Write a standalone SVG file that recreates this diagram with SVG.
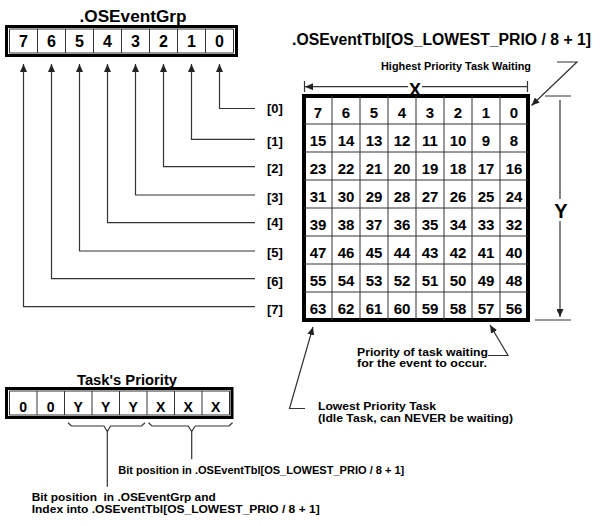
<svg xmlns="http://www.w3.org/2000/svg" width="600" height="526" viewBox="0 0 600 526">
<defs>
<marker id="ah" markerUnits="userSpaceOnUse" markerWidth="9" markerHeight="7" refX="8" refY="3.5" orient="auto">
<path d="M0,0 L8,3.5 L0,7 z" fill="#222"/>
</marker>
<style>
text{font-family:"Liberation Sans",Arial,sans-serif;font-weight:bold;fill:#000}
.c{text-anchor:middle}
.outer{fill:#fff;stroke:#000;stroke-width:3}
.cell{fill:none;stroke:#333;stroke-width:1}
.ln{fill:none;stroke:#333;stroke-width:1.2}
.ar{fill:none;stroke:#333;stroke-width:1.2;marker-end:url(#ah)}
.d16{font-size:16px}
.d15{font-size:15px}
.d14{font-size:14px}
.lb{font-size:13px}
.an{font-size:11px}
</style>
</defs>
<rect width="600" height="526" fill="#fff"/>

<g id="osEventGrp">
<text class="c" x="133" y="22" font-size="17" textLength="107" lengthAdjust="spacingAndGlyphs">.OSEventGrp</text>
<rect class="outer" x="6.5" y="26.5" width="230" height="29"/>
<path class="cell" d="M9.5,29 H233.5 V53 H9.5 Z M37.5,29 V53 M65.5,29 V53 M93.5,29 V53 M121.5,29 V53 M149.5,29 V53 M177.5,29 V53 M205.5,29 V53"/>
<g class="d16 c">
<text x="23.5" y="47">7</text><text x="51.5" y="47">6</text><text x="79.5" y="47">5</text><text x="107.5" y="47">4</text>
<text x="135.5" y="47">3</text><text x="163.5" y="47">2</text><text x="191.5" y="47">1</text><text x="219.5" y="47">0</text>
</g>
</g>

<g id="rowLabels" class="lb">
<text x="267" y="112.5">[0]</text>
<text x="267" y="145.5">[1]</text>
<text x="267" y="173.3">[2]</text>
<text x="267" y="202">[3]</text>
<text x="267" y="227.3">[4]</text>
<text x="267" y="257.3">[5]</text>
<text x="267" y="285.6">[6]</text>
<text x="267" y="314">[7]</text>
</g>

<g id="osEventTbl">
<text x="292" y="45" font-size="16" textLength="299" lengthAdjust="spacingAndGlyphs">.OSEventTbl[OS_LOWEST_PRIO / 8 + 1]</text>
<rect x="304" y="96" width="224" height="224" fill="#fff" stroke="#000" stroke-width="4"/>
<path class="cell" d="M332,96 V320 M360,96 V320 M388,96 V320 M416,96 V320 M444,96 V320 M472,96 V320 M500,96 V320 M304,124 H528 M304,152 H528 M304,180 H528 M304,208 H528 M304,236 H528 M304,264 H528 M304,292 H528"/>
<g class="d15 c">
<text x="318" y="118">7</text><text x="346" y="118">6</text><text x="374" y="118">5</text><text x="402" y="118">4</text><text x="430" y="118">3</text><text x="458" y="118">2</text><text x="486" y="118">1</text><text x="514" y="118">0</text>
<text x="318" y="146">15</text><text x="346" y="146">14</text><text x="374" y="146">13</text><text x="402" y="146">12</text><text x="430" y="146">11</text><text x="458" y="146">10</text><text x="486" y="146">9</text><text x="514" y="146">8</text>
<text x="318" y="174">23</text><text x="346" y="174">22</text><text x="374" y="174">21</text><text x="402" y="174">20</text><text x="430" y="174">19</text><text x="458" y="174">18</text><text x="486" y="174">17</text><text x="514" y="174">16</text>
<text x="318" y="202">31</text><text x="346" y="202">30</text><text x="374" y="202">29</text><text x="402" y="202">28</text><text x="430" y="202">27</text><text x="458" y="202">26</text><text x="486" y="202">25</text><text x="514" y="202">24</text>
<text x="318" y="230">39</text><text x="346" y="230">38</text><text x="374" y="230">37</text><text x="402" y="230">36</text><text x="430" y="230">35</text><text x="458" y="230">34</text><text x="486" y="230">33</text><text x="514" y="230">32</text>
<text x="318" y="258">47</text><text x="346" y="258">46</text><text x="374" y="258">45</text><text x="402" y="258">44</text><text x="430" y="258">43</text><text x="458" y="258">42</text><text x="486" y="258">41</text><text x="514" y="258">40</text>
<text x="318" y="286">55</text><text x="346" y="286">54</text><text x="374" y="286">53</text><text x="402" y="286">52</text><text x="430" y="286">51</text><text x="458" y="286">50</text><text x="486" y="286">49</text><text x="514" y="286">48</text>
<text x="318" y="314">63</text><text x="346" y="314">62</text><text x="374" y="314">61</text><text x="402" y="314">60</text><text x="430" y="314">59</text><text x="458" y="314">58</text><text x="486" y="314">57</text><text x="514" y="314">56</text>
</g>
</g>

<g id="dimX">
<path class="ln" d="M304.5,81 V92 M527.5,81 V92 M527.5,86.7 H422"/>
<path class="ar" d="M408,86.7 H305"/>
<text class="c" x="415" y="95.5" font-size="18">X</text>
</g>

<g id="dimY">
<path class="ln" d="M545,96 H571 M535,320 H571 M560,100 V199"/>
<path class="ar" d="M560,221 V317"/>
<text class="c" x="561" y="218" font-size="20">Y</text>
</g>

<g id="taskPriority">
<text class="c" x="127" y="385" font-size="14.5" textLength="100" lengthAdjust="spacingAndGlyphs">Task's Priority</text>
<rect class="outer" x="6.5" y="388.5" width="225.5" height="29"/>
<path class="cell" d="M9.5,391 H229.5 V415 H9.5 Z M37,391 V415 M64.5,391 V415 M92,391 V415 M119.5,391 V415 M147,391 V415 M174.5,391 V415 M202,391 V415"/>
<g class="d14 c">
<text x="23.25" y="411.5">0</text><text x="50.75" y="411.5">0</text><text x="78.25" y="411.5">Y</text><text x="105.75" y="411.5">Y</text>
<text x="133.25" y="411.5">Y</text><text x="160.75" y="411.5">X</text><text x="188.25" y="411.5">X</text><text x="215.75" y="411.5">X</text>
</g>
</g>

<g id="annotations" class="an">
<text x="381" y="69.5" textLength="150" lengthAdjust="spacingAndGlyphs">Highest Priority Task Waiting</text>
<text x="357" y="355.5" textLength="131" lengthAdjust="spacingAndGlyphs">Priority of task waiting</text>
<text x="357" y="367" textLength="130" lengthAdjust="spacingAndGlyphs">for the event to occur.</text>
<text x="318" y="409.5" textLength="118" lengthAdjust="spacingAndGlyphs">Lowest Priority Task</text>
<text x="318" y="422" textLength="195" lengthAdjust="spacingAndGlyphs">(Idle Task, can NEVER be waiting)</text>
<text x="118.3" y="473.5" textLength="286" lengthAdjust="spacingAndGlyphs">Bit position in .OSEventTbl[OS_LOWEST_PRIO / 8 + 1]</text>
<text x="31.7" y="500.5" xml:space="preserve" textLength="184" lengthAdjust="spacingAndGlyphs">Bit position  in .OSEventGrp and</text>
<text x="31.7" y="513" textLength="288" lengthAdjust="spacingAndGlyphs">Index into .OSEventTbl[OS_LOWEST_PRIO / 8 + 1]</text>
</g>

<g id="connectors">
<path class="ar" d="M255,108.5 H219.5 V64"/>
<path class="ar" d="M255,139.3 H191.5 V64"/>
<path class="ar" d="M255,166.7 H163.5 V64"/>
<path class="ar" d="M255,195 H135.5 V64"/>
<path class="ar" d="M255,222.7 H107.5 V64"/>
<path class="ar" d="M255,251 H79.5 V64"/>
<path class="ar" d="M255,278.7 H51.5 V64"/>
<path class="ar" d="M255,306.7 H23.5 V64"/>
<path class="ar" d="M557,62 H577 L531.5,105.5"/>
<path class="ar" d="M488,355.5 H508 L490,325"/>
<path class="ar" d="M305,408.5 H289.5 L313,327"/>
<path class="ln" d="M68,422.7 L71.5,426 H104 L107.3,431.5 L110.5,426 H141.5 L145,422.7"/>
<path class="ln" d="M148.5,422.7 L152,426 H188.2 L191.7,431.5 L195.2,426 H229 L232.5,422.7"/>
<path class="ln" d="M107.3,431.5 V486.7 M191.7,431.5 V459.3"/>
</g>
</svg>
